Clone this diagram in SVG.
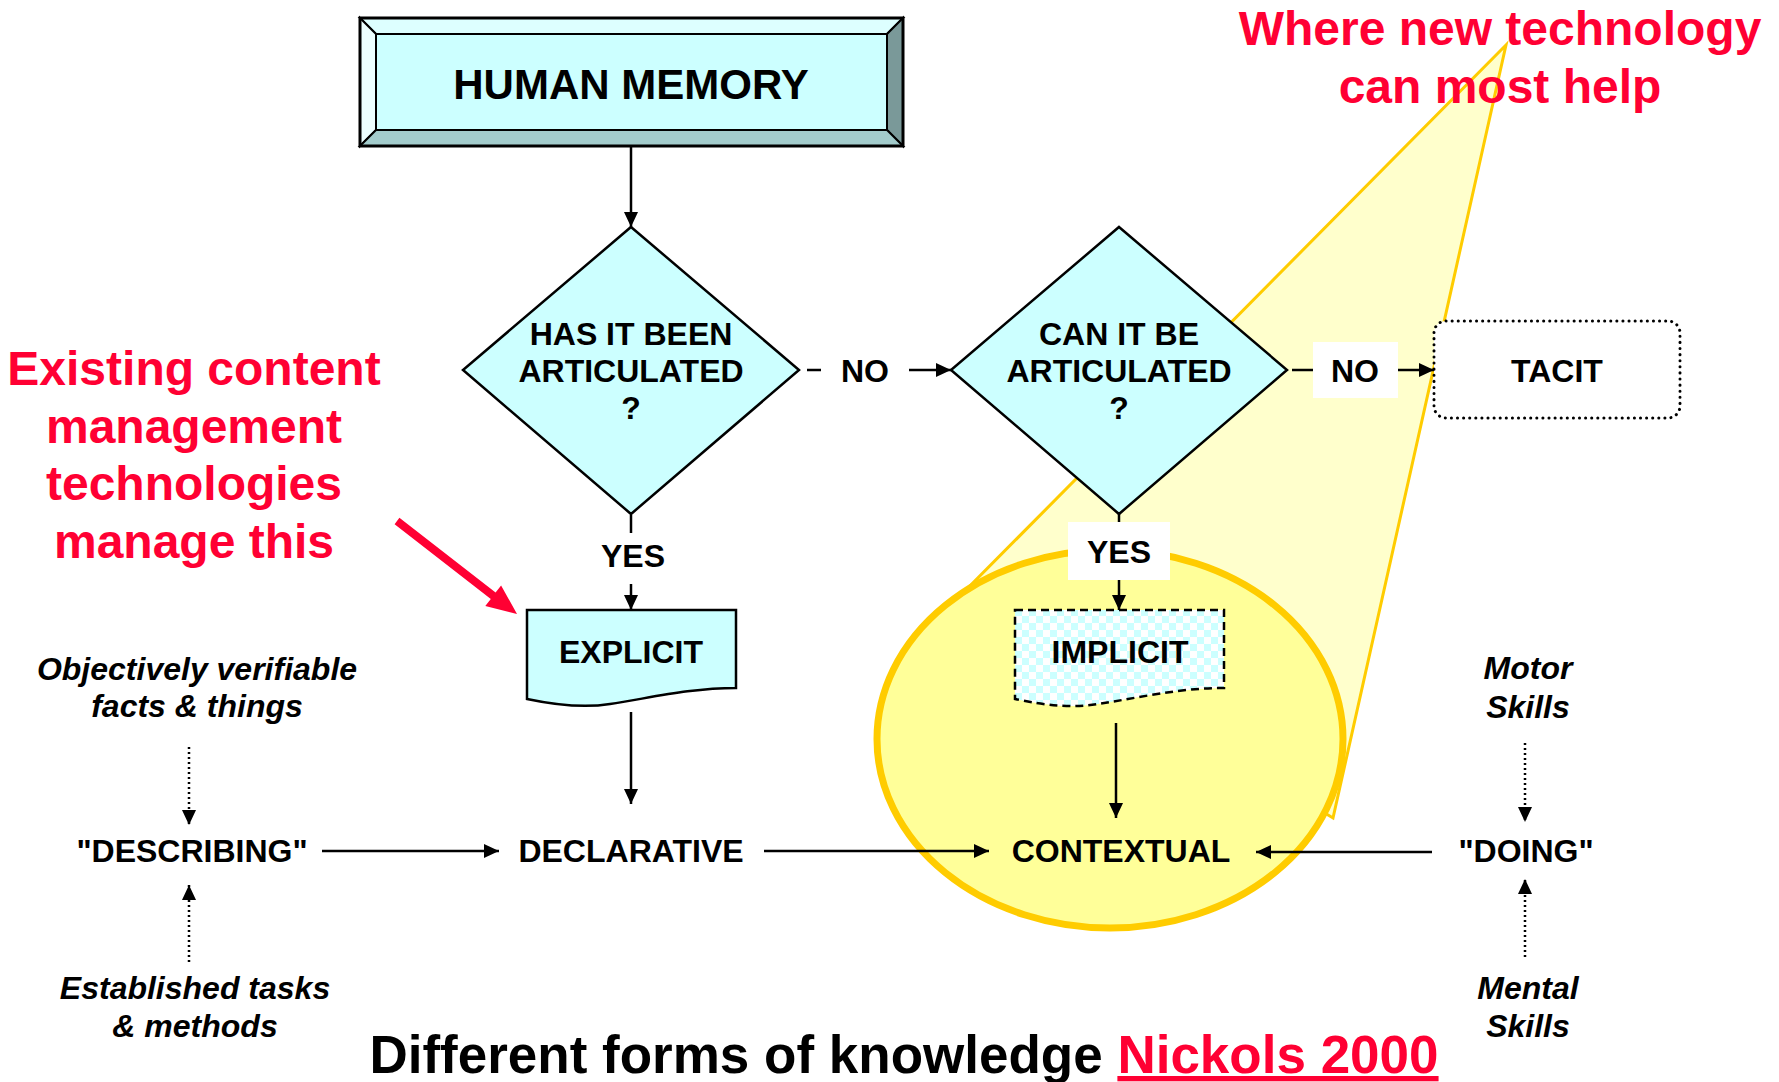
<svg xmlns="http://www.w3.org/2000/svg" width="1779" height="1082" viewBox="0 0 1779 1082">
<style>
.t{font-family:"Liberation Sans",Arial,sans-serif;font-weight:bold;fill:#000;text-anchor:middle}
.n32{font-size:32px}
.it{font-style:italic}
.red{fill:#FF0033;font-size:48px}
.ln{stroke:#000;stroke-width:2.5;fill:none}
.dot{stroke:#000;stroke-width:2.5;fill:none;stroke-dasharray:2 3}
.lbl{fill:#fff;stroke:none}
</style>
<defs>
<marker id="ah" markerUnits="userSpaceOnUse" markerWidth="16" markerHeight="14" refX="15" refY="7" orient="auto">
<path d="M0,0 L15,7 L0,14 z" fill="#000"/>
</marker>
<pattern id="chk" width="14" height="14" patternUnits="userSpaceOnUse">
<rect width="14" height="14" fill="#fff"/>
<rect width="7" height="7" fill="#CCFFFF"/>
<rect x="7" y="7" width="7" height="7" fill="#CCFFFF"/>
</pattern>
</defs>
<rect width="1779" height="1082" fill="#fff"/>

<g id="callout">
<polygon points="1506,45 962,594 1333,818" fill="#FFFFCC" stroke="#FFCC00" stroke-width="3" stroke-linejoin="miter"/>
<ellipse cx="1110" cy="739" rx="233" ry="189" fill="#FFFF99" stroke="#FFCC00" stroke-width="7"/>
</g>

<g id="connectors">
<line class="ln" x1="631" y1="146" x2="631" y2="227" marker-end="url(#ah)"/>
<line class="ln" x1="807" y1="370" x2="951" y2="370" marker-end="url(#ah)"/>
<line class="ln" x1="1292" y1="370" x2="1434" y2="370" marker-end="url(#ah)"/>
<line class="ln" x1="631" y1="515" x2="631" y2="610" marker-end="url(#ah)"/>
<line class="ln" x1="1119" y1="514" x2="1119" y2="610" marker-end="url(#ah)"/>
<line class="ln" x1="631" y1="712" x2="631" y2="804" marker-end="url(#ah)"/>
<line class="ln" x1="1116" y1="723" x2="1116" y2="818" marker-end="url(#ah)"/>
<line class="ln" x1="322" y1="851" x2="499" y2="851" marker-end="url(#ah)"/>
<line class="ln" x1="764" y1="851" x2="989" y2="851" marker-end="url(#ah)"/>
<line class="ln" x1="1432" y1="852" x2="1256" y2="852" marker-end="url(#ah)"/>
<line class="dot" x1="189" y1="747" x2="189" y2="825" marker-end="url(#ah)"/>
<line class="dot" x1="189" y1="962" x2="189" y2="885" marker-end="url(#ah)"/>
<line class="dot" x1="1525" y1="743" x2="1525" y2="822" marker-end="url(#ah)"/>
<line class="dot" x1="1525" y1="957" x2="1525" y2="879" marker-end="url(#ah)"/>
<g id="label-no1"><rect class="lbl" x="821" y="345" width="88" height="50"/><text class="t n32" x="865" y="382">NO</text></g>
<g id="label-no2"><rect class="lbl" x="1313" y="342" width="85" height="56"/><text class="t n32" x="1355" y="382">NO</text></g>
<g id="label-yes1"><rect class="lbl" x="595" y="533" width="76" height="51"/><text class="t n32" x="633" y="567">YES</text></g>
<g id="label-yes2"><rect class="lbl" x="1068" y="522" width="102" height="58"/><text class="t n32" x="1119" y="563">YES</text></g>
<polygon id="red-arrow" points="399.4,517.8 495.6,592.5 501.1,585.4 517,614 485.3,606 490.8,598.9 394.6,524.2" fill="#FF0033"/>
</g>

<g id="human-memory">
<polygon points="360,18 903,18 887,34 376,34" fill="#DDFFFF" stroke="#000" stroke-width="2"/>
<polygon points="360,18 376,34 376,130 360,146" fill="#ECFFFF" stroke="#000" stroke-width="2"/>
<polygon points="903,18 903,146 887,130 887,34" fill="#7A9999" stroke="#000" stroke-width="2"/>
<polygon points="360,146 376,130 887,130 903,146" fill="#A3CCCC" stroke="#000" stroke-width="2"/>
<rect x="376" y="34" width="511" height="96" fill="#CCFFFF" stroke="#000" stroke-width="2"/>
<rect x="360" y="18" width="543" height="128" fill="none" stroke="#000" stroke-width="3"/>
<text class="t" x="631" y="99" font-size="42">HUMAN MEMORY</text>
</g>

<g id="q-articulated">
<polygon points="631,227 799,370 631,514 463,370" fill="#CCFFFF" stroke="#000" stroke-width="2.5"/>
<text class="t n32" x="631" y="345">HAS IT BEEN</text>
<text class="t n32" x="631" y="382">ARTICULATED</text>
<text class="t n32" x="631" y="419">?</text>
</g>

<g id="q-can-articulate">
<polygon points="1119,227 1287,370 1119,514 951,370" fill="#CCFFFF" stroke="#000" stroke-width="2.5"/>
<text class="t n32" x="1119" y="345">CAN IT BE</text>
<text class="t n32" x="1119" y="382">ARTICULATED</text>
<text class="t n32" x="1119" y="419">?</text>
</g>

<g id="tacit">
<rect x="1434" y="321" width="246" height="97" rx="12" fill="#fff" stroke="#000" stroke-width="3" stroke-dasharray="0.1 6" stroke-linecap="round"/>
<text class="t n32" x="1557" y="382">TACIT</text>
</g>

<g id="explicit">
<path d="M527,610 H736 V688 C690,688 650,698 610,704 C585,708 560,706 527,699 Z" fill="#CCFFFF" stroke="#000" stroke-width="2.5"/>
<text class="t n32" x="631" y="663">EXPLICIT</text>
</g>

<g id="implicit">
<path d="M1015,610 H1224 V688 C1178,688 1138,698 1098,704 C1073,708 1048,706 1015,699 Z" fill="url(#chk)" stroke="#000" stroke-width="2.5" stroke-dasharray="8 5"/>
<text class="t n32" x="1120" y="663">IMPLICIT</text>
</g>

<g id="describing"><text class="t n32" x="192" y="862">"DESCRIBING"</text></g>
<g id="declarative"><text class="t n32" x="631" y="862">DECLARATIVE</text></g>
<g id="contextual"><text class="t n32" x="1121" y="862">CONTEXTUAL</text></g>
<g id="doing"><text class="t n32" x="1526" y="862">"DOING"</text></g>

<g id="objective-facts">
<text class="t n32 it" x="197" y="680">Objectively verifiable</text>
<text class="t n32 it" x="197" y="717">facts &amp; things</text>
</g>
<g id="established-tasks">
<text class="t n32 it" x="195" y="999">Established tasks</text>
<text class="t n32 it" x="195" y="1037">&amp; methods</text>
</g>
<g id="motor-skills">
<text class="t n32 it" x="1528" y="679">Motor</text>
<text class="t n32 it" x="1528" y="718">Skills</text>
</g>
<g id="mental-skills">
<text class="t n32 it" x="1528" y="999">Mental</text>
<text class="t n32 it" x="1528" y="1037">Skills</text>
</g>

<g id="note-existing">
<text class="t red" x="194" y="385">Existing content</text>
<text class="t red" x="194" y="443">management</text>
<text class="t red" x="194" y="500">technologies</text>
<text class="t red" x="194" y="558">manage this</text>
</g>
<g id="note-new">
<text class="t red" x="1500" y="45">Where new technology</text>
<text class="t red" x="1500" y="103">can most help</text>
</g>

<g id="title">
<text class="t" x="904" y="1073" font-size="53">Different forms of knowledge <tspan fill="#FF0033" text-decoration="underline">Nickols 2000</tspan></text>
</g>
</svg>
